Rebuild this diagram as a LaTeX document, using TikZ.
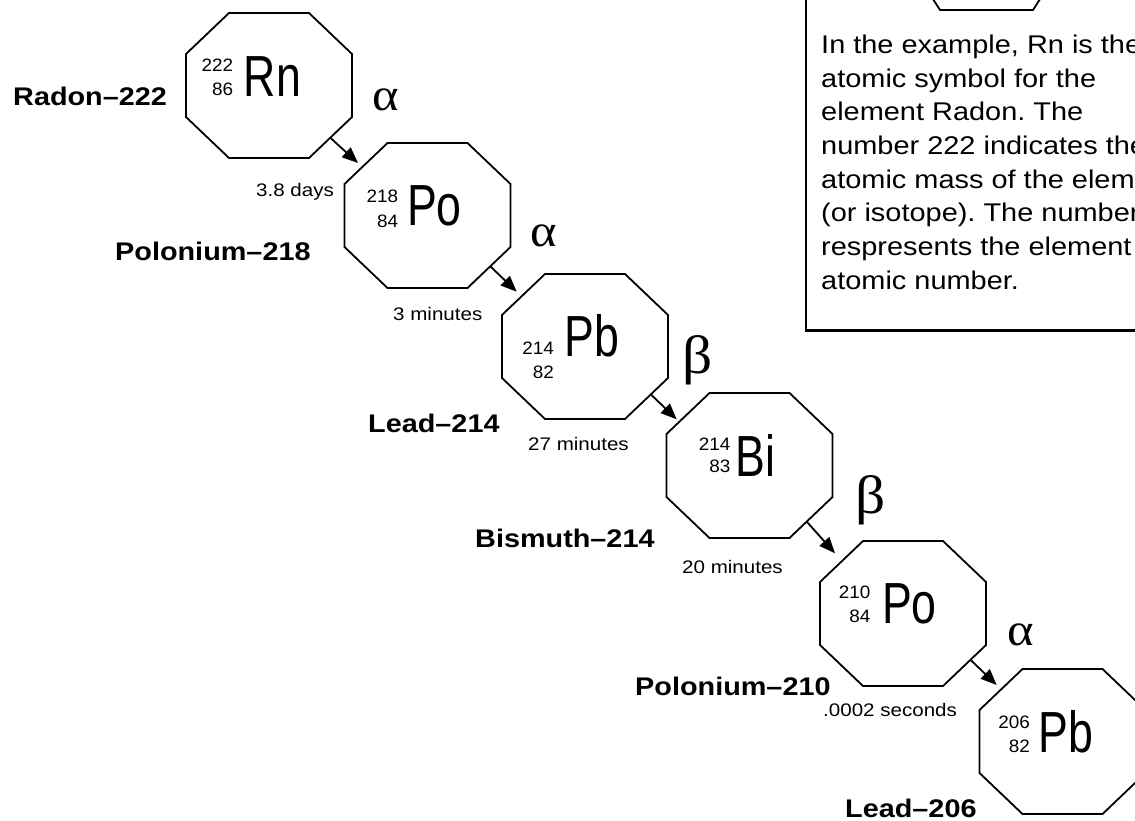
\documentclass[tikz,border=0pt]{standalone}
\usepackage{fontspec}
\setmainfont{Liberation Sans}
\newfontfamily\bodyf[FakeStretch=1.13]{Liberation Sans}
\newfontfamily\numf[FakeStretch=1.05]{Liberation Sans}
\newfontfamily\symf[FakeStretch=0.77]{Liberation Sans}
\newfontfamily\greekf[FakeStretch=1.1]{Liberation Serif}
\usetikzlibrary{calc,arrows.meta}
\frenchspacing
\newcommand\drawoct[1]{%
  \draw[octline] ($(#1.north)+(-40,0)$) -- ($(#1.north)+(40,0)$) -- ($(#1.east)+(0,-31.5)$) -- ($(#1.east)+(0,31.5)$) -- ($(#1.south)+(40,0)$) -- ($(#1.south)+(-40,0)$) -- ($(#1.west)+(0,31.5)$) -- ($(#1.west)+(0,-31.5)$) -- cycle;}
\begin{document}
\begin{tikzpicture}[x=1pt,y=-1pt,
  octnode/.style={rectangle,minimum width=166pt,minimum height=145pt,inner sep=0pt,outer sep=0pt},
  octline/.style={draw=black,line width=1.8pt,line join=miter},
  decay/.style={line width=1.8pt,-{Triangle[length=16pt,width=13pt]}},
  isolabel/.style={anchor=base west,inner sep=0pt,font=\bodyf\bfseries\fontsize{25.5}{30}\selectfont},
  timelabel/.style={anchor=base west,inner sep=0pt,font=\bodyf\fontsize{18.2}{22}\selectfont},
  mass/.style={anchor=base east,inner sep=0pt,font=\numf\fontsize{18}{20}\selectfont},
  sym/.style={anchor=base west,inner sep=0pt,font=\symf\fontsize{58}{60}\selectfont},
  alpharay/.style={inner sep=0pt,font=\greekf\fontsize{46}{50}\selectfont},
  betaray/.style={inner sep=0pt,font=\greekf\fontsize{54}{58}\selectfont},
  boxtext/.style={anchor=base west,inner sep=0pt,font=\bodyf\fontsize{25.6}{33.7}\selectfont},
]
\useasboundingbox (0,0) rectangle (1135,820);
\clip (0,0) rectangle (1135,820);

% explanation box
\draw[line width=2.3pt] (806,-20) rectangle (1160,330.5);
\draw[octline] (924,-15) -- (940,10) -- (1033,10) -- (1049,-15);
\node[boxtext] (l1) at (821,53.3) {In the example, Rn is the};
\node[boxtext] (l2) at (821,87) {atomic symbol for the};
\node[boxtext] (l3) at (821,120.7) {element Radon. The};
\node[boxtext] (l4) at (821,154.4) {number 222 indicates the};
\node[boxtext] (l5) at (821,188) {atomic mass of the elem};
\node[boxtext] (l6) at (821,221.8) {(or isotope). The number};
\node[boxtext] (l7) at (821,255.5) {respresents the element};
\node[boxtext] (l8) at (821,289.2) {atomic number.};

% octagons
\node[octnode] (rn) at (269,85.5) {};
\node[octnode] (po1) at (427.5,215.5) {};
\node[octnode] (pb1) at (585,346.5) {};
\node[octnode] (bi) at (749.5,465.5) {};
\node[octnode] (po2) at (903,613.5) {};
\node[octnode] (pb2) at (1062.5,741.5) {};
\drawoct{rn}\drawoct{po1}\drawoct{pb1}\drawoct{bi}\drawoct{po2}\drawoct{pb2}

% element symbols
\node[mass] (rnA) at (233.3,71.7) {222};
\node[mass] (rnZ) at (233.3,95) {86};
\node[sym] (rnS) at (243.7,96.7) {Rn};
\node[mass] (po1A) at (398.3,202.7) {218};
\node[mass] (po1Z) at (398.3,227.3) {84};
\node[sym] (po1S) at (407,225) {Po};
\node[mass] (pb1A) at (554,354) {214};
\node[mass] (pb1Z) at (554,378.3) {82};
\node[sym] (pb1S) at (564.3,356.7) {Pb};
\node[mass] (biA) at (730.7,450) {214};
\node[mass] (biZ) at (730.7,472.7) {83};
\node[sym] (biS) at (735.3,476.7) {Bi};
\node[mass] (po2A) at (870.7,598.3) {210};
\node[mass] (po2Z) at (870.7,622.7) {84};
\node[sym] (po2S) at (882,623.3) {Po};
\node[mass] (pb2A) at (1030,728.3) {206};
\node[mass] (pb2Z) at (1030,752.7) {82};
\node[sym] (pb2S) at (1038.7,752.7) {Pb};

% isotope names
\node[isolabel] (nrn) at (13,105) {Radon–222};
\node[isolabel] (npo1) at (115,260) {Polonium–218};
\node[isolabel] (npb1) at (368,432) {Lead–214};
\node[isolabel] (nbi) at (475,547) {Bismuth–214};
\node[isolabel] (npo2) at (635,695) {Polonium–210};
\node[isolabel] (npb2) at (845,817) {Lead–206};

% half-lives
\node[timelabel] (t1) at (256,196) {3.8 days};
\node[timelabel] (t2) at (393,320) {3 minutes};
\node[timelabel] (t3) at (528,450) {27 minutes};
\node[timelabel] (t4) at (682,573) {20 minutes};
\node[timelabel] (t5) at (823,716) {.0002 seconds};

% radiation
\node[alpharay] (r1) at (386,100) {α};
\node[alpharay] (r2) at (544,236) {α};
\node[betaray] (r3) at (698,360) {β};
\node[betaray] (r4) at (871,500) {β};
\node[alpharay] (r5) at (1021,635) {α};

% decay arrows
\coordinate (rn-out) at ($(rn)+(61,52)$);
\coordinate (po1-in) at ($(po1)+(-69.5,-52.5)$);
\coordinate (po1-out) at ($(po1)+(62.8,50.8)$);
\coordinate (pb1-in) at ($(pb1)+(-68.3,-54.8)$);
\coordinate (pb1-out) at ($(pb1)+(65.8,47.9)$);
\coordinate (bi-in) at ($(bi)+(-72.8,-46.2)$);
\coordinate (bi-out) at ($(bi)+(57.2,56.1)$);
\coordinate (po2-in) at ($(po2)+(-68,-60.2)$);
\coordinate (po2-out) at ($(po2)+(67.5,46.3)$);
\coordinate (pb2-in) at ($(pb2)+(-65.8,-56.5)$);
\draw[decay] (rn-out) -- (po1-in);
\draw[decay] (po1-out) -- (pb1-in);
\draw[decay] (pb1-out) -- (bi-in);
\draw[decay] (bi-out) -- (po2-in);
\draw[decay] (po2-out) -- (pb2-in);
\end{tikzpicture}
\end{document}
